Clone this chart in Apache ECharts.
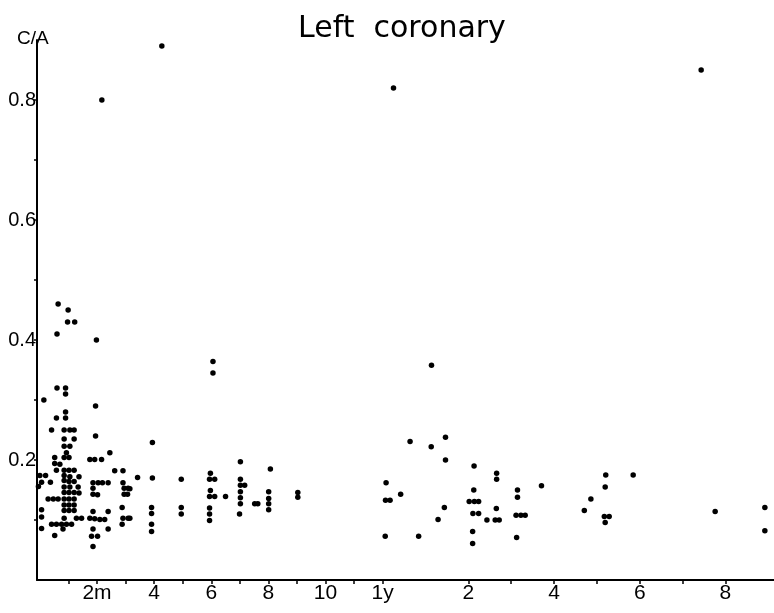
<!DOCTYPE html>
<html>
<head>
<meta charset="utf-8">
<script src="https://cdn.jsdelivr.net/npm/echarts@6/dist/echarts.min.js"></script>
<style>
  html, body { margin: 0; padding: 0; background: #fff; }
  #chart { width: 774px; height: 613px; }
</style>
</head>
<body>
<div id="chart"></div>
<script>
// x is an age scale: months up to 1y (12), then 1y->2y spans 3 units, then 1.5 units per year
const xTickValues = [1, 2, 3, 4, 5, 6, 7, 8, 9, 10, 11, 12, 15, 16.5, 18, 19.5, 21, 22.5, 24];
const xLabelValues = [2, 4, 6, 8, 10, 12, 15, 18, 21, 24];
const xLabelTexts = ['2m', '4', '6', '8', '10', '1y', '2', '4', '6', '8'];
const yTickValues = [0.1, 0.2, 0.3, 0.4, 0.5, 0.6, 0.7, 0.8];
const yLabelValues = [0.2, 0.4, 0.6, 0.8];

// C/A ratio for each case, [age position, C/A]
const points = [
    [4.27, 0.89], [2.17, 0.80], [12.38, 0.82], [23.15, 0.85],
    [0.64, 0.46], [0.99, 0.45], [0.97, 0.43], [1.22, 0.43], [0.60, 0.41], [1.98, 0.40],
    [0.60, 0.32], [0.90, 0.32], [0.90, 0.31], [0.14, 0.30], [1.95, 0.29], [0.90, 0.28],
    [0.58, 0.27], [0.90, 0.27], [0.41, 0.25], [0.85, 0.25], [1.05, 0.25], [1.20, 0.25],
    [1.95, 0.24], [0.85, 0.235], [1.20, 0.235], [0.85, 0.223], [1.05, 0.223], [0.93, 0.212],
    [2.45, 0.212], [0.52, 0.204], [0.85, 0.204], [1.02, 0.204], [1.75, 0.201], [1.92, 0.201],
    [2.16, 0.201], [0.52, 0.194], [0.70, 0.193], [0.58, 0.183], [0.85, 0.183], [1.02, 0.183],
    [1.20, 0.183], [2.62, 0.182], [2.91, 0.182], [0, 0.174], [0.20, 0.174], [0.85, 0.174],
    [1.05, 0.172], [1.37, 0.172], [0.06, 0.163], [0.37, 0.163], [0.85, 0.166], [1.02, 0.164],
    [1.20, 0.164], [1.86, 0.162], [2.04, 0.162], [2.19, 0.162], [2.39, 0.162], [2.91, 0.162],
    [-0.05, 0.156], [0.85, 0.155], [1.05, 0.155], [1.34, 0.155], [1.86, 0.153], [2.95, 0.153],
    [3.09, 0.153], [0.85, 0.146], [1.02, 0.146], [1.20, 0.146], [1.37, 0.145], [1.86, 0.143],
    [2.02, 0.142], [2.95, 0.143], [3.07, 0.143], [0.29, 0.135], [0.47, 0.135], [0.64, 0.135],
    [0.85, 0.135], [1.02, 0.135], [1.20, 0.135], [0.85, 0.125], [1.02, 0.125], [1.20, 0.125],
    [2.88, 0.121], [0.85, 0.116], [1.02, 0.116], [1.20, 0.116], [0.06, 0.117], [1.86, 0.114],
    [2.39, 0.114], [0.06, 0.105], [0.85, 0.103], [1.28, 0.103], [1.46, 0.103], [1.75, 0.103],
    [1.92, 0.102], [2.10, 0.101], [2.27, 0.101], [2.91, 0.103], [3.09, 0.103], [0.41, 0.093],
    [0.58, 0.093], [0.76, 0.093], [0.93, 0.093], [1.11, 0.093], [0.06, 0.086], [0.81, 0.085],
    [1.86, 0.085], [2.39, 0.085], [2.88, 0.093], [0.52, 0.074], [1.81, 0.073], [2.02, 0.073],
    [1.86, 0.056],
    [3.42, 0.171], [3.94, 0.170], [3.94, 0.229], [4.95, 0.168], [3.15, 0.152], [3.15, 0.103],
    [3.91, 0.121], [3.91, 0.111], [3.91, 0.093], [3.91, 0.081], [4.95, 0.121], [4.95, 0.110],
    [5.97, 0.178], [5.94, 0.168], [6.12, 0.168], [5.97, 0.149], [5.94, 0.139], [6.12, 0.139],
    [6.50, 0.139], [5.94, 0.120], [5.94, 0.110], [5.94, 0.099], [6.06, 0.364], [6.06, 0.345],
    [7.02, 0.197], [7.02, 0.168], [7.02, 0.158], [7.17, 0.158], [7.02, 0.147], [7.02, 0.137],
    [7.02, 0.127], [6.99, 0.110], [7.52, 0.127], [7.63, 0.127], [8.07, 0.185], [8.01, 0.147],
    [8.01, 0.136], [8.01, 0.127], [8.01, 0.117],
    [9.03, 0.146], [9.03, 0.138], [12.96, 0.231], [13.70, 0.222], [14.20, 0.238], [14.20, 0.200],
    [12.12, 0.162], [12.10, 0.133], [12.26, 0.133], [12.63, 0.143], [14.16, 0.121], [13.94, 0.101],
    [12.09, 0.073], [13.26, 0.073], [13.71, 0.358],
    [15.20, 0.190], [15.19, 0.150], [15.03, 0.131], [15.21, 0.131], [15.36, 0.131], [15.16, 0.111],
    [15.36, 0.111], [15.65, 0.100], [15.94, 0.100], [16.08, 0.100], [15.99, 0.178], [15.99, 0.168],
    [15.98, 0.119], [15.15, 0.081], [15.15, 0.061], [16.72, 0.150], [16.72, 0.138], [16.67, 0.108],
    [16.84, 0.108], [16.99, 0.108], [16.69, 0.071], [17.56, 0.157],
    [19.06, 0.116], [19.29, 0.135], [19.81, 0.175], [19.79, 0.155], [19.76, 0.106], [19.93, 0.106],
    [19.79, 0.096], [20.77, 0.175], [23.64, 0.114], [25.38, 0.121], [25.38, 0.082]
];

const chart = echarts.init(document.getElementById('chart'));

const option = {
    animation: false,
    backgroundColor: '#fff',
    title: [{
        text: 'Left  coronary',
        left: 293,
        top: 9,
        textStyle: { fontFamily: 'DejaVu Sans', fontSize: 30, fontWeight: 'normal', color: '#000' }
    }, {
        text: 'C/A',
        left: 12,
        top: 24,
        textStyle: { fontFamily: 'Liberation Sans', fontSize: 19, fontWeight: 'normal', color: '#000' }
    }],
    grid: { left: 37, right: 0, top: 40, bottom: 33, containLabel: false },
    xAxis: {
        type: 'value',
        min: -0.1,
        max: 25.7,
        splitLine: { show: false },
        axisLine: { show: true, onZero: false, lineStyle: { color: '#000', width: 2 } },
        axisTick: { show: true, customValues: xTickValues, length: 4, lineStyle: { color: '#000', width: 1.5 } },
        axisLabel: {
            customValues: xLabelValues,
            formatter: v => xLabelTexts[xLabelValues.indexOf(v)],
            fontFamily: 'Liberation Sans',
            fontSize: 21,
            color: '#000',
            margin: 3
        }
    },
    yAxis: {
        type: 'value',
        min: 0,
        max: 0.9,
        splitLine: { show: false },
        axisLine: { show: true, onZero: false, lineStyle: { color: '#000', width: 2 } },
        axisTick: { show: true, customValues: yTickValues, length: 3, lineStyle: { color: '#000', width: 1.5 } },
        axisLabel: {
            customValues: yLabelValues,
            formatter: v => v.toFixed(1),
            fontFamily: 'Liberation Sans',
            fontSize: 20,
            color: '#000',
            margin: 1
        }
    },
    series: [{
        type: 'scatter',
        data: points,
        symbol: 'circle',
        symbolSize: 5.5,
        itemStyle: { color: '#000', opacity: 1 }
    }]
};

chart.setOption(option);
</script>
</body>
</html>
